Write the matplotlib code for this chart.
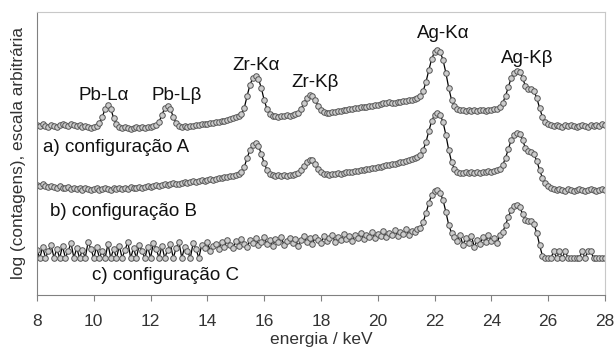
import numpy as np
import matplotlib
matplotlib.use("Agg")
import matplotlib.pyplot as plt

plt.rcParams["font.family"] = ["Liberation Sans", "DejaVu Sans"]

# energy channels (keV), 0.1 keV step
energy = np.round(np.linspace(8.0, 28.0, 201), 1)

# log(counts), arbitrary offsets
conf_a = [
    170, 169, 171, 169, 168, 170, 169, 168, 170, 171,
    170, 169, 171, 170, 169, 170, 168, 169, 168, 167,
    168, 169, 172, 178, 186, 190, 186, 177, 171, 168,
    167, 168, 167, 166, 167, 168, 167, 168, 167, 168,
    168, 169, 170, 173, 180, 187, 189, 186, 178, 172,
    169, 168, 169, 168, 169, 169, 170, 170, 171, 171,
    171, 172, 172, 173, 173, 174, 174, 175, 176, 177,
    178, 179, 181, 187, 199, 210, 217, 219, 216, 207,
    195, 186, 181, 179, 179, 178, 179, 179, 180, 179,
    180, 181, 182, 186, 192, 197, 200, 199, 195, 189,
    185, 183, 182, 182, 183, 183, 184, 184, 185, 185,
    186, 186, 187, 187, 188, 188, 188, 189, 189, 190,
    190, 191, 192, 192, 193, 192, 192, 193, 193, 194,
    194, 195, 195, 196, 197, 199, 204, 213, 225, 236,
    243, 245, 243, 235, 222, 207, 195, 189, 186, 185,
    185, 184, 185, 184, 185, 184, 185, 185, 184, 185,
    185, 186, 186, 188, 192, 199, 208, 217, 222, 224,
    223, 217, 209, 206, 206, 204, 197, 187, 178, 173,
    171, 170, 169, 170, 169, 168, 170, 169, 170, 169,
    168, 169, 170, 169, 168, 170, 169, 170, 169, 171,
    170,
]

conf_b = [
    110, 109, 111, 109, 108, 109, 108, 107, 109, 107,
    107, 108, 106, 107, 106, 107, 105, 107, 106, 105,
    106, 107, 105, 106, 107, 106, 105, 107, 106, 107,
    106, 107, 106, 108, 107, 107, 108, 107, 108, 109,
    108, 109, 110, 109, 110, 111, 110, 111, 112, 111,
    111, 112, 113, 112, 113, 114, 113, 114, 115, 114,
    115, 116, 115, 116, 117, 117, 118, 118, 119, 119,
    120, 121, 123, 128, 137, 145, 150, 152, 149, 141,
    132, 125, 121, 120, 119, 120, 119, 120, 119, 120,
    120, 121, 122, 125, 129, 133, 135, 135, 131, 126,
    123, 121, 121, 120, 121, 121, 122, 121, 122, 123,
    123, 123, 124, 124, 125, 125, 126, 126, 127, 127,
    128, 128, 129, 130, 130, 131, 131, 132, 133, 133,
    134, 135, 136, 137, 138, 140, 145, 153, 164, 174,
    180, 182, 180, 173, 160, 145, 133, 126, 123, 122,
    122, 123, 122, 123, 122, 123, 122, 123, 123, 124,
    123, 124, 125, 126, 130, 137, 146, 155, 160, 162,
    161, 155, 147, 144, 143, 141, 134, 125, 117, 112,
    109, 107, 106, 105, 106, 105, 104, 106, 105, 104,
    105, 106, 105, 104, 105, 106, 105, 104, 105, 106,
    105,
]

conf_c = [
    45, 37, 48, 37, 44, 50, 37, 46, 37, 49,
    37, 44, 52, 37, 47, 37, 45, 37, 53, 46,
    37, 48, 37, 44, 37, 51, 37, 46, 37, 49,
    37, 45, 53, 37, 47, 37, 50, 44, 37, 48,
    37, 52, 46, 37, 49, 37, 45, 51, 37, 47,
    53, 37, 48, 44, 37, 52, 46, 37, 50, 47,
    53, 44, 49, 51, 46, 53, 48, 55, 50, 47,
    54, 49, 56, 51, 48, 55, 52, 57, 50, 53,
    58, 51, 55, 49, 56, 53, 58, 50, 54, 57,
    52, 56, 49, 55, 59, 53, 57, 51, 58, 55,
    52, 59, 54, 57, 60, 53, 58, 55, 61, 56,
    59, 54, 60, 57, 62, 56, 60, 58, 63, 57,
    61, 59, 64, 58, 62, 60, 65, 59, 63, 61,
    66, 60, 64, 63, 66, 67, 73, 82, 92, 100,
    104, 105, 102, 95, 83, 70, 62, 58, 54, 60,
    50, 57, 52, 59, 48, 55, 51, 58, 53, 60,
    54, 57, 52, 60, 63, 70, 78, 85, 89, 90,
    88, 81, 75, 74, 74, 71, 62, 50, 39, 37,
    37, 37, 44, 37, 44, 37, 44, 37, 37, 37,
    37, 37, 44, 37, 44, 44, 37, 37, 37, 37,
    37,
]

peak_labels = ["Pb-Lα", "Pb-Lβ", "Zr-Kα", "Zr-Kβ", "Ag-Kα", "Ag-Kβ"]
peak_label_x = [10.36, 12.93, 15.71, 17.8, 22.3, 25.25]
peak_label_y = [199, 199, 229, 212, 261, 236]

config_labels = ["a) configuração A", "b) configuração B", "c) configuração C"]
config_label_x = [8.21, 8.46, 9.94]
config_label_y = [147, 83, 20]

fig = plt.figure(figsize=(6.16, 3.51), dpi=100)
ax = fig.add_axes([0.060, 0.1595, 0.922, 0.8065])

for series in [conf_a, conf_b, conf_c]:
    ax.plot(energy, series, color="black", lw=0.9, marker="o", markersize=4.0,
            markerfacecolor="#cccccc", markeredgecolor="#555555", markeredgewidth=0.7)

for lab, x, y in zip(peak_labels, peak_label_x, peak_label_y):
    ax.text(x, y, lab, ha="center", va="center", fontsize=13.5, color="#111111")

for lab, x, y in zip(config_labels, config_label_x, config_label_y):
    ax.text(x, y, lab, ha="left", va="center", fontsize=13.5, color="#111111")

ax.set_xlim(8, 28)
ax.set_ylim(0, 283)
ax.set_xticks(np.arange(8, 29, 2))
ax.set_yticks([])
ax.tick_params(axis="x", direction="out", length=4, width=0.8, color="#808080",
               labelsize=12.5, labelcolor="#333333", pad=10)

for side in ["left", "bottom"]:
    ax.spines[side].set_color("#808080")
for side in ["top", "right"]:
    ax.spines[side].set_color("#c8c8c8")

ax.set_xlabel("energia / keV", fontsize=12.5, color="#333333", labelpad=2)
ax.set_ylabel("log (contagens), escala arbitrária", fontsize=12.4, color="#333333",
              labelpad=8)

fig.savefig("out.png", dpi=100)
